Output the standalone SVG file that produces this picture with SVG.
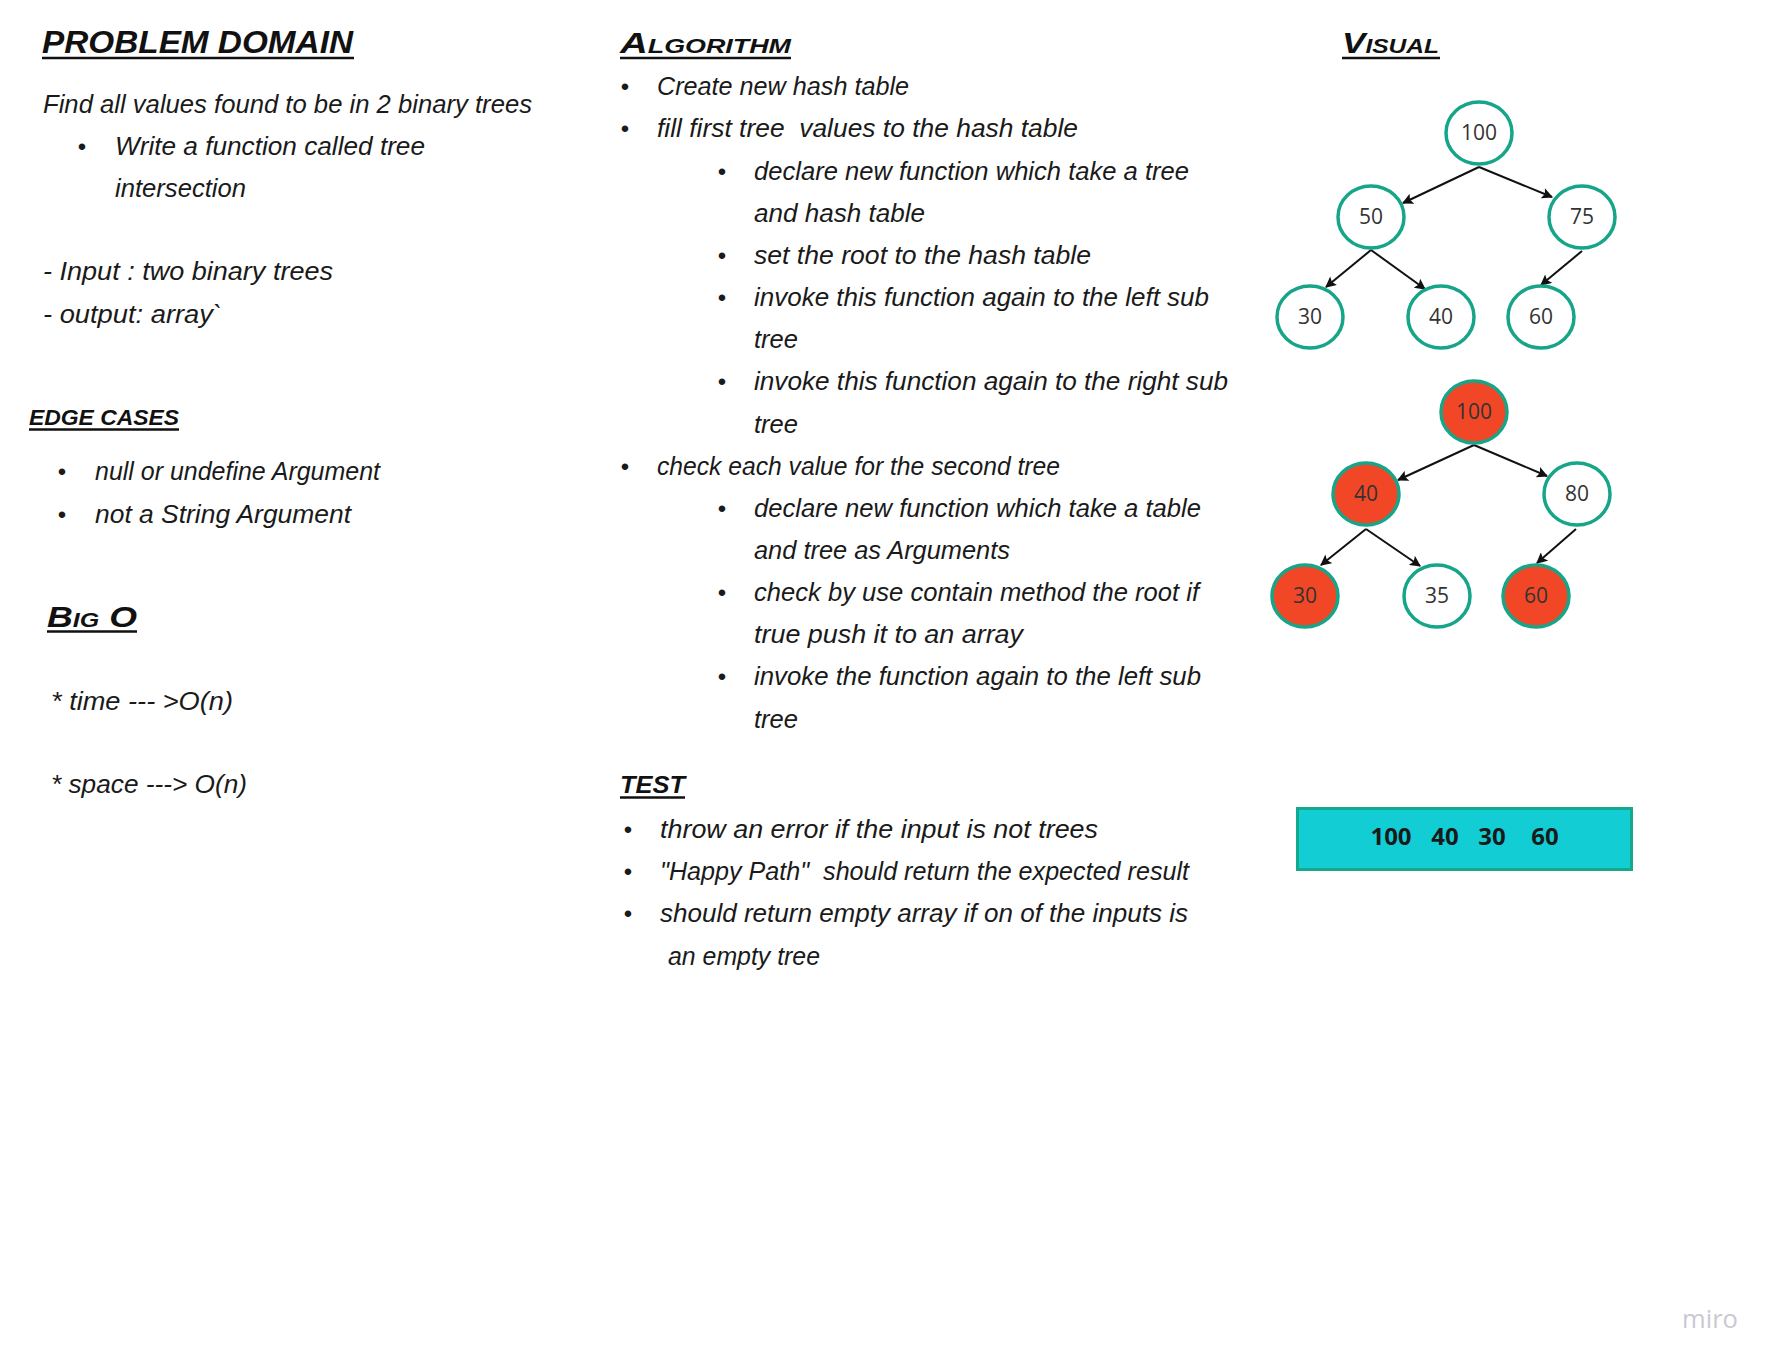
<svg xmlns="http://www.w3.org/2000/svg" width="1780" height="1371" viewBox="0 0 1780 1371">
<defs>
<marker id="ah" viewBox="0 0 10 10" refX="9" refY="5" markerWidth="12" markerHeight="11" markerUnits="userSpaceOnUse" orient="auto">
<path d="M0,0 L10,5 L0,10 L2,5 z" fill="#111"/>
</marker>
<style>
.h{font-family:"Liberation Sans Narrow","Liberation Sans",sans-serif;font-weight:bold;font-style:italic;fill:#111}
.t{font-family:"Liberation Sans Narrow","Liberation Sans",sans-serif;font-style:italic;font-size:26px;fill:#1a1a1a}
.b{font-family:"Liberation Sans",sans-serif;font-size:24px;fill:#1a1a1a;text-anchor:middle}
.ul{stroke:#111;stroke-width:2.5}
.n{stroke:#17A589;stroke-width:3.5;fill:#fff}
.r{fill:#F24726}
.nl{font-family:"Open Sans","Noto Sans",sans-serif;font-size:21px;fill:#333;text-anchor:middle}
.e{stroke:#111;stroke-width:2;fill:none;marker-end:url(#ah)}
.rv{font-family:"Open Sans","Noto Sans",sans-serif;font-weight:bold;font-size:24px;fill:#1a1a1a;text-anchor:middle}
</style>
</defs>
<rect width="1780" height="1371" fill="#fff"/>

<g id="problem-domain">
<text class="h" x="42" y="53" font-size="32" textLength="311" lengthAdjust="spacingAndGlyphs">PROBLEM DOMAIN</text>
<line class="ul" x1="42" y1="58" x2="354" y2="58"/>
<text class="t" x="43" y="113" textLength="489" lengthAdjust="spacingAndGlyphs">Find all values found to be in 2 binary trees</text>
<text class="b" x="82" y="155">•</text>
<text class="t" x="115" y="155" textLength="310" lengthAdjust="spacingAndGlyphs">Write a function called tree</text>
<text class="t" x="115" y="197" textLength="131" lengthAdjust="spacingAndGlyphs">intersection</text>
<text class="t" x="43" y="280" textLength="290" lengthAdjust="spacingAndGlyphs">- Input : two binary trees</text>
<text class="t" x="43" y="323" textLength="179" lengthAdjust="spacingAndGlyphs">- output: array`</text>
</g>

<g id="edge-cases">
<text class="h" x="29" y="425" font-size="22" textLength="150" lengthAdjust="spacingAndGlyphs">EDGE CASES</text>
<line class="ul" x1="29" y1="429.5" x2="179" y2="429.5" stroke-width="2"/>
<text class="b" x="62" y="480">•</text>
<text class="t" x="95" y="480" textLength="285" lengthAdjust="spacingAndGlyphs">null or undefine Argument</text>
<text class="b" x="62" y="523">•</text>
<text class="t" x="95" y="523" textLength="256" lengthAdjust="spacingAndGlyphs">not a String Argument</text>
</g>

<g id="big-o">
<text class="h" x="47" y="627" font-size="30" font-variant="small-caps" textLength="90" lengthAdjust="spacingAndGlyphs">Big O</text>
<line class="ul" x1="47" y1="631.5" x2="137" y2="631.5"/>
<text class="t" x="51" y="710" textLength="182" lengthAdjust="spacingAndGlyphs">* time --- &gt;O(n)</text>
<text class="t" x="51" y="793" textLength="196" lengthAdjust="spacingAndGlyphs">* space ---&gt; O(n)</text>
</g>

<g id="algorithm">
<text class="h" x="620" y="53" font-size="30" font-variant="small-caps" textLength="171" lengthAdjust="spacingAndGlyphs">Algorithm</text>
<line class="ul" x1="620" y1="58" x2="791" y2="58"/>
<text class="b" x="625" y="95">•</text>
<text class="t" x="657" y="95" textLength="252" lengthAdjust="spacingAndGlyphs">Create new hash table</text>
<text class="b" x="625" y="137">•</text>
<text class="t" x="657" y="137" xml:space="preserve" textLength="421" lengthAdjust="spacingAndGlyphs">fill first tree  values to the hash table</text>
<text class="b" x="722" y="180">•</text>
<text class="t" x="754" y="180" textLength="435" lengthAdjust="spacingAndGlyphs">declare new function which take a tree</text>
<text class="t" x="754" y="222" textLength="171" lengthAdjust="spacingAndGlyphs">and hash table</text>
<text class="b" x="722" y="264">•</text>
<text class="t" x="754" y="264" textLength="337" lengthAdjust="spacingAndGlyphs">set the root to the hash table</text>
<text class="b" x="722" y="306">•</text>
<text class="t" x="754" y="306" textLength="455" lengthAdjust="spacingAndGlyphs">invoke this function again to the left sub</text>
<text class="t" x="754" y="348" textLength="44" lengthAdjust="spacingAndGlyphs">tree</text>
<text class="b" x="722" y="390">•</text>
<text class="t" x="754" y="390" textLength="474" lengthAdjust="spacingAndGlyphs">invoke this function again to the right sub</text>
<text class="t" x="754" y="433" textLength="44" lengthAdjust="spacingAndGlyphs">tree</text>
<text class="b" x="625" y="475">•</text>
<text class="t" x="657" y="475" textLength="403" lengthAdjust="spacingAndGlyphs">check each value for the second tree</text>
<text class="b" x="722" y="517">•</text>
<text class="t" x="754" y="517" textLength="447" lengthAdjust="spacingAndGlyphs">declare new function which take a table</text>
<text class="t" x="754" y="559" textLength="256" lengthAdjust="spacingAndGlyphs">and tree as Arguments</text>
<text class="b" x="722" y="601">•</text>
<text class="t" x="754" y="601" textLength="445" lengthAdjust="spacingAndGlyphs">check by use contain method the root if</text>
<text class="t" x="754" y="643" textLength="269" lengthAdjust="spacingAndGlyphs">true push it to an array</text>
<text class="b" x="722" y="685">•</text>
<text class="t" x="754" y="685" textLength="447" lengthAdjust="spacingAndGlyphs">invoke the function again to the left sub</text>
<text class="t" x="754" y="728" textLength="44" lengthAdjust="spacingAndGlyphs">tree</text>
</g>

<g id="test">
<text class="h" x="620" y="793" font-size="24" textLength="65" lengthAdjust="spacingAndGlyphs">TEST</text>
<line class="ul" x1="620" y1="797.5" x2="685" y2="797.5" stroke-width="2"/>
<text class="b" x="628" y="838">•</text>
<text class="t" x="660" y="838" textLength="438" lengthAdjust="spacingAndGlyphs">throw an error if the input is not trees</text>
<text class="b" x="628" y="880">•</text>
<text class="t" x="660" y="880" xml:space="preserve" textLength="529" lengthAdjust="spacingAndGlyphs">"Happy Path"  should return the expected result</text>
<text class="b" x="628" y="922">•</text>
<text class="t" x="660" y="922" textLength="528" lengthAdjust="spacingAndGlyphs">should return empty array if on of the inputs is</text>
<text class="t" x="668" y="965" textLength="152" lengthAdjust="spacingAndGlyphs">an empty tree</text>
</g>

<g id="visual-title">
<text class="h" x="1342" y="53" font-size="30" font-variant="small-caps" textLength="97" lengthAdjust="spacingAndGlyphs">Visual</text>
<line class="ul" x1="1342" y1="58" x2="1440" y2="58"/>
</g>

<g id="connectors">
<line class="e" x1="1479" y1="167" x2="1403" y2="203"/>
<line class="e" x1="1479" y1="167" x2="1552" y2="197"/>
<line class="e" x1="1371" y1="250" x2="1326" y2="287"/>
<line class="e" x1="1371" y1="250" x2="1425" y2="289"/>
<line class="e" x1="1582" y1="251" x2="1541" y2="285"/>
<line class="e" x1="1474" y1="445" x2="1398" y2="480"/>
<line class="e" x1="1474" y1="445" x2="1547" y2="476"/>
<line class="e" x1="1366" y1="529" x2="1321" y2="565"/>
<line class="e" x1="1366" y1="529" x2="1420" y2="566"/>
<line class="e" x1="1576" y1="529" x2="1537" y2="563"/>
</g>

<g id="t1-100"><ellipse class="n" cx="1479" cy="133" rx="33" ry="31"/><text class="nl" x="1479" y="140">100</text></g>
<g id="t1-50"><ellipse class="n" cx="1371" cy="217" rx="33" ry="31"/><text class="nl" x="1371" y="224">50</text></g>
<g id="t1-75"><ellipse class="n" cx="1582" cy="217" rx="33" ry="31"/><text class="nl" x="1582" y="224">75</text></g>
<g id="t1-30"><ellipse class="n" cx="1310" cy="317" rx="33" ry="31"/><text class="nl" x="1310" y="324">30</text></g>
<g id="t1-40"><ellipse class="n" cx="1441" cy="317" rx="33" ry="31"/><text class="nl" x="1441" y="324">40</text></g>
<g id="t1-60"><ellipse class="n" cx="1541" cy="317" rx="33" ry="31"/><text class="nl" x="1541" y="324">60</text></g>

<g id="t2-100"><ellipse class="n r" cx="1474" cy="412" rx="33" ry="31"/><text class="nl" x="1474" y="419">100</text></g>
<g id="t2-40"><ellipse class="n r" cx="1366" cy="494" rx="33" ry="31"/><text class="nl" x="1366" y="501">40</text></g>
<g id="t2-80"><ellipse class="n" cx="1577" cy="494" rx="33" ry="31"/><text class="nl" x="1577" y="501">80</text></g>
<g id="t2-30"><ellipse class="n r" cx="1305" cy="596" rx="33" ry="31"/><text class="nl" x="1305" y="603">30</text></g>
<g id="t2-35"><ellipse class="n" cx="1437" cy="596" rx="33" ry="31"/><text class="nl" x="1437" y="603">35</text></g>
<g id="t2-60"><ellipse class="n r" cx="1536" cy="596" rx="33" ry="31"/><text class="nl" x="1536" y="603">60</text></g>

<g id="result">
<rect x="1297.5" y="808.5" width="334" height="61" fill="#12CDD4" stroke="#14A98B" stroke-width="3"/>
<text class="rv" x="1391" y="845">100</text>
<text class="rv" x="1445" y="845">40</text>
<text class="rv" x="1492" y="845">30</text>
<text class="rv" x="1545" y="845">60</text>
</g>

<g id="miro">
<text x="1682" y="1328" font-family="'Open Sans','Noto Sans',sans-serif" font-size="25" fill="#c9c9d4" textLength="56" lengthAdjust="spacingAndGlyphs">miro</text>
</g>
</svg>
